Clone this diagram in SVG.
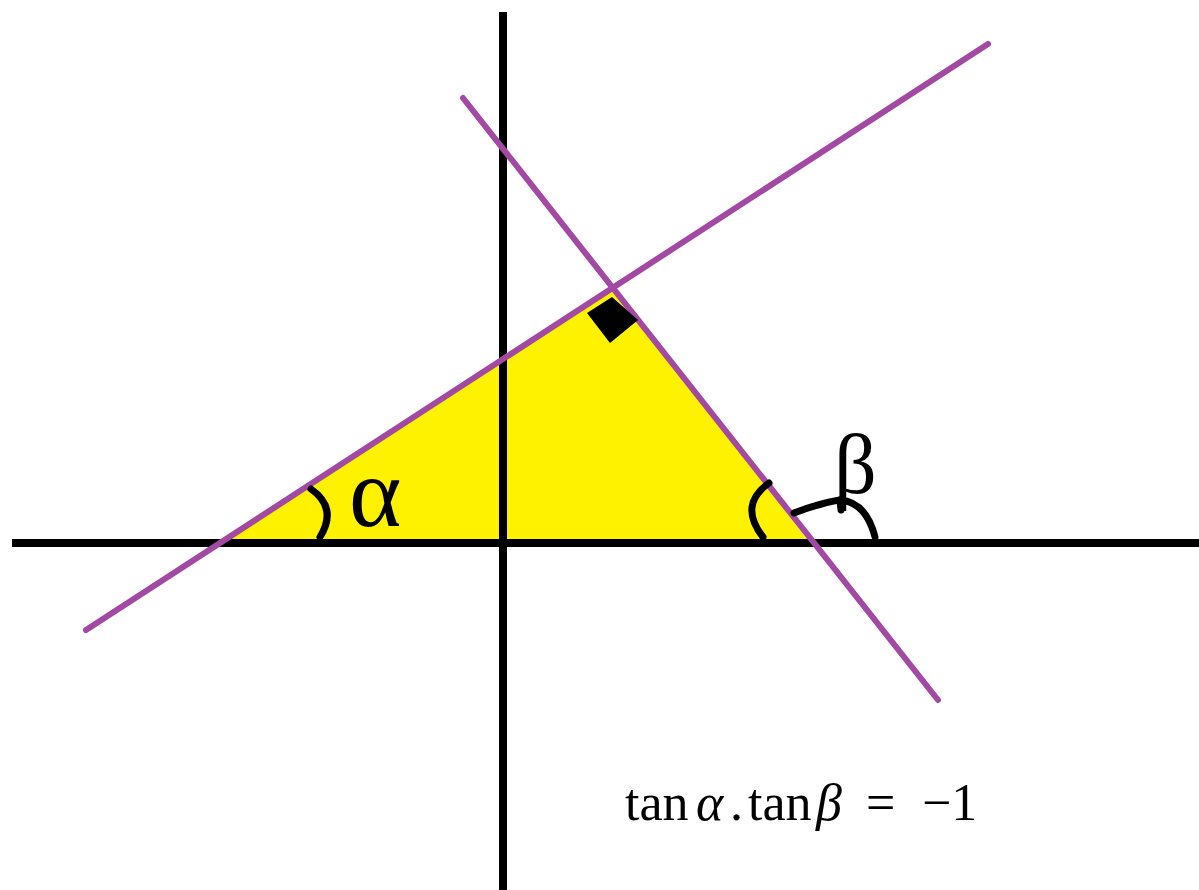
<svg xmlns="http://www.w3.org/2000/svg" width="1199" height="890" viewBox="0 0 1199 890">
<style>
.axis{stroke:#000;stroke-width:8;fill:none}
.pl{stroke:#A349A4;stroke-width:6;stroke-linecap:round;fill:none}
.arc{stroke:#000;stroke-width:7;fill:none;stroke-linecap:round;stroke-linejoin:round}
.greek{font-family:"Liberation Serif","DejaVu Serif",serif;fill:#000}
.f{font-family:"Liberation Serif","DejaVu Serif",serif;font-size:52px;fill:#000}
</style>
<rect width="1199" height="890" fill="#fff"/>
<g id="triangle"><polygon points="220,543 613,289 810,543" fill="#FFF200"/></g>
<g id="axes">
<line class="axis" x1="12" y1="543" x2="1199" y2="543"/>
<line class="axis" x1="503" y1="12" x2="503" y2="890"/>
</g>
<g id="connectors">
<line class="pl" x1="86" y1="630" x2="988" y2="44"/>
<line class="pl" x1="463" y1="98" x2="938" y2="700"/>
</g>
<g id="rightangle"><polygon points="612,297 638,320 610,343 587,313" fill="#000"/></g>
<g id="alpha-mark">
<path class="arc" d="M311,489 Q338,508 320,537"/>
<text class="greek" x="349" y="526" font-size="100">α</text>
</g>
<g id="beta-mark">
<path class="arc" d="M769,483 Q738,505 763,537"/>
<path class="arc" d="M794,513 Q820,503 840,500 Q866,502 875,537"/>
<path class="arc" d="M840,500 L841,510"/>
<text class="greek" x="834" y="493" font-size="84">β</text>
</g>
<g id="formula">
<text class="f" y="820"><tspan x="625">tan</tspan><tspan x="696" font-style="italic">α</tspan><tspan x="730">.</tspan><tspan x="748">tan</tspan><tspan x="816" font-style="italic">β</tspan><tspan x="866">=</tspan><tspan x="922">−1</tspan></text>
</g>
</svg>
